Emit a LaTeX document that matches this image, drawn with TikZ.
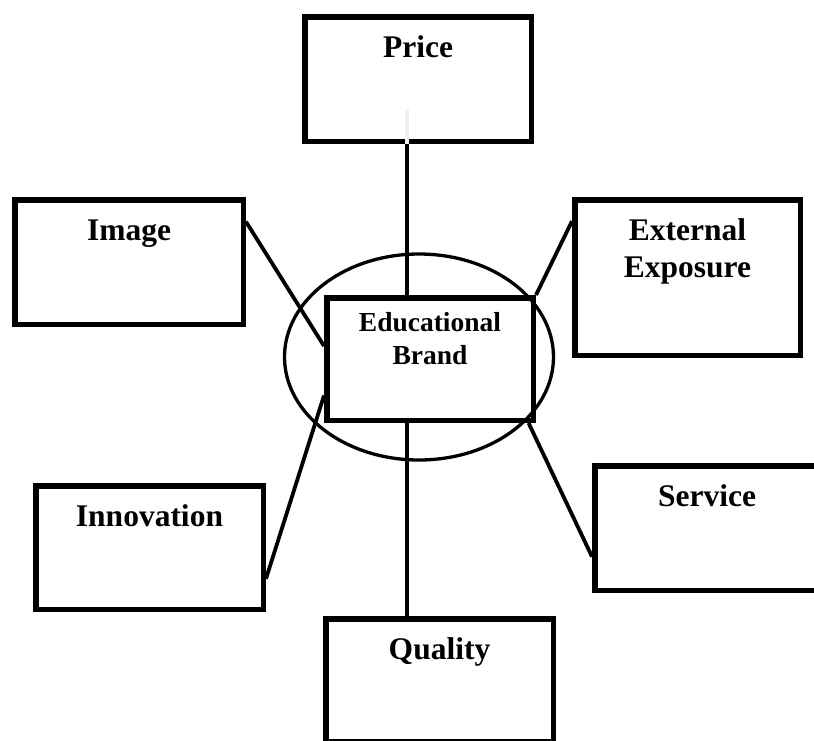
\documentclass[tikz,border=0pt]{standalone}
\usepackage{fontspec}
\setmainfont{Liberation Serif}
\usepackage{tikz}
\usetikzlibrary{calc}

\begin{document}
\begin{tikzpicture}[x=1pt, y=-1pt,
    box/.style 2 args={draw, line width=5.5pt, inner sep=0pt, minimum width=#1, text height=41pt, text depth=#2, align=center, font=\fontsize{31.5}{37}\selectfont\bfseries},
    cbox/.style={draw, line width=5.5pt, inner sep=0pt, minimum width=206.5pt, text height=67pt, text depth=55.5pt, align=center, font=\fontsize{27.5}{33}\selectfont\bfseries},
    link/.style={line width=3.8pt},
    ring/.style={line width=3.3pt}]
    \useasboundingbox (0,0) rectangle (814,740);
    \node[box={226.5pt}{83.5pt}] (price) at (418, 79) {Price};
    \node[box={228.5pt}{83.5pt}] (image) at (129, 262) {Image};
    \node[box={225.5pt}{77.5pt}, text height=78pt] (extexp) at (687.5, 277.5) {External\\Exposure};
    \node[cbox] (edubrand) at (430, 359) {Educational\\Brand};
    \node[box={227.5pt}{82.5pt}] (innov) at (149.5, 547.5) {Innovation};
    \node[box={224.5pt}{83.5pt}] (service) at (707, 528) {Service};
    \node[box={227.5pt}{81.5pt}] (quality) at (439.5, 680) {Quality};

    \draw[ring] (419, 357) ellipse [x radius=134.5, y radius=103];

    \coordinate (axis) at ($(edubrand.north west)!.393!(edubrand.north east)$);
    \draw[link, gray!12] (axis |- price.south) -- ++(0,-35);
    \draw[link] (axis) -- (axis |- price.south);
    \draw[link] (axis |- edubrand.south) -- (axis |- quality.north);
    \draw[link] (image.19) -- (edubrand.173);
    \draw[link] (extexp.154) -- (edubrand.north east);
    \draw[link] (innov.-15) -- (edubrand.199);
    \draw[link] (edubrand.-33) -- (service.194);
\end{tikzpicture}
\end{document}
